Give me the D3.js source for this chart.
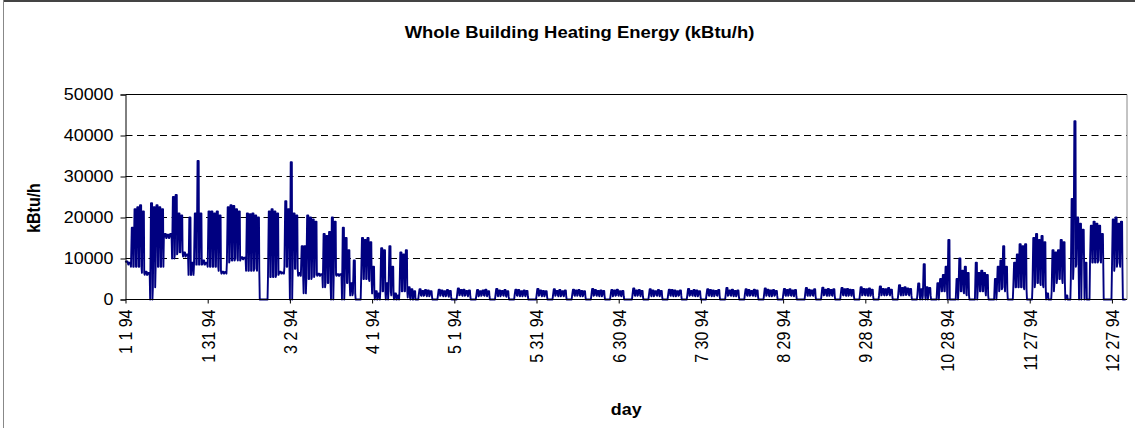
<!DOCTYPE html>
<html><head><meta charset="utf-8">
<script src="https://cdn.jsdelivr.net/npm/d3@7"></script>
<style>
body{margin:0;background:#fff}
svg text{font-family:"Liberation Sans",Arial,Helvetica,sans-serif;fill:#000}
</style></head><body>
<svg id="chart" width="1135" height="428"></svg>
<script>
// ---- data (kBtu/h), one low (night) and one high (daytime) reading per day ----
const tickLabels = ["1 1 94","1 31 94","3 2 94","4 1 94","5 1 94","5 31 94","6 30 94","7 30 94","8 29 94","9 28 94","10 28 94","11 27 94","12 27 94"];
const tickDays = [0,30,60,90,120,150,180,210,240,270,300,330,360];
const yTicks = [0,10000,20000,30000,40000,50000];

const lowJan = [9000,8500,8000,8000,8000,8000,6500,6000,6000,0,3000,8000,8000,8000,15000,15000,15000,10000,11000,11500,11500,10500,10500,6000,6000,8500,8500,8500,8500,8500,8000];
const highJan = [9300,9000,17500,22000,22500,23000,21500,6800,6500,23500,22500,23000,22500,22000,16000,15800,16000,25000,25500,21000,20500,11500,11000,20000,9000,21000,33800,21000,9500,9000,21500];
const lowFeb = [8000,8000,8000,7000,6300,6300,9000,9500,9500,10000,9500,9800,9800,7000,7000,7000,7500,7000,0,0,0,5500,5500,5500,6000,6300,6300,8000];
const highFeb = [21500,21000,21500,20500,6800,6700,22500,23000,22800,22000,21500,10300,10200,21000,20800,21000,20500,20000,0,0,0,21500,22000,21500,21000,6800,6600,24000];
const lowMar = [8000,0,7500,7500,5800,5800,1500,5000,5000,5500,6000,5800,5800,3000,4000,4000,0,6000,5800,5800,0,4000,4000,1000,1500,0,0,5000,5000,5000,4500];
const highMar = [22000,33500,21000,20500,6500,13000,13000,20500,20000,19500,19000,6300,6200,16000,15500,16500,20000,19000,6200,6200,17500,15000,12000,4000,9500,0,0,15000,14500,15000,14000];
const lowApr = [1500,0,0,2000,2000,0,2000,1000,0,0,2000,2000,2000,500,0,0,0,1000,900,1000,800,900,0,0,900,1000,800,900,700,0];
const highApr = [8000,2000,1500,12500,12000,4000,13000,8000,1500,1000,11500,11000,12000,3000,2500,2000,0,2500,2100,2300,2200,2000,0,0,2400,2200,2000,2300,2100,0];
const lowMay = [0,1000,1100,900,1000,800,0,0,800,900,1000,900,800,0,0,900,800,1000,900,700,0,0,1000,900,800,900,800,0,0,0,900];
const highMay = [0,2700,2300,2400,2100,2200,0,0,2300,2000,2200,2400,2000,0,0,2600,2200,2100,2300,2000,0,0,2400,2300,2000,2200,2100,0,0,0,2600];
const lowJun = [1000,800,900,0,0,900,1000,800,900,800,0,0,1000,900,1000,800,900,0,0,900,1000,900,800,900,0,0,800,900,1000,900];
const highJun = [2200,2100,2000,0,0,2500,2100,2300,2000,2200,0,0,2400,2200,2300,2100,2000,0,0,2600,2300,2100,2200,2100,0,0,2300,2200,2400,2000];
const lowJul = [800,0,0,0,1000,900,1000,800,0,0,900,800,1000,900,800,0,0,1000,900,800,900,1000,0,0,900,1000,900,800,900,0,0];
const highJul = [2100,0,0,0,2700,2200,2300,2100,0,0,2500,2200,2000,2300,2100,0,0,2400,2300,2200,2000,2200,0,0,2600,2100,2300,2200,2000,0,0];
const lowAug = [1000,900,800,1000,900,0,0,900,1000,900,800,900,0,0,1000,900,1000,900,800,0,0,900,1000,800,900,1000,0,0,1000,900,1000];
const highAug = [2500,2300,2200,2100,2300,0,0,2800,2200,2400,2100,2200,0,0,2500,2300,2100,2400,2200,0,0,2700,2400,2200,2300,2100,0,0,2600,2300,2500];
const lowSep = [900,800,0,0,0,1000,900,1000,900,0,0,1000,1100,900,1000,900,0,0,1100,1000,900,1000,900,0,0,1000,1100,1000,900,1000];
const highSep = [2200,2300,0,0,0,2800,2400,2200,2500,0,0,2900,2400,2600,2300,2500,0,0,2800,2500,2600,2400,2300,0,0,3000,2600,2500,2700,2400];
const lowOct = [0,0,1000,1100,1000,1200,1000,0,0,1200,1000,1100,1200,1000,0,0,1200,0,1000,0,1000,0,0,0,2000,2000,2000,0,0,0,0];
const highOct = [0,0,3200,2600,2500,2800,2400,0,0,3500,2800,3000,2700,2600,0,0,3900,2500,8600,3000,2800,0,0,4000,5000,6000,8000,14500,0,0,5000];
const lowNov = [2000,2000,1500,1000,0,0,0,2000,2000,2000,1000,0,0,0,2000,2500,3000,2000,0,0,3000,3000,3000,3000,2500,0,0,3000,4000,4000];
const highNov = [10000,7000,8000,6500,0,0,9000,6500,7000,6500,6000,0,0,5000,8000,9500,13000,8000,0,0,9000,11000,13500,13000,13500,0,0,15000,16000,14500];
const lowDec = [3500,3000,0,0,2000,4000,5000,5000,4000,0,0,5000,8000,8500,0,9000,0,0,9000,9000,9000,9500,9000,0,0,0,7000,8000,9000,8000,0];
const highDec = [15500,14000,1500,0,12000,11500,12000,14500,14000,1000,0,24500,43500,20000,18500,17000,9000,0,18000,19000,18500,18000,16000,0,0,0,19500,20000,18500,19000,0];

const dailyLow = [].concat(lowJan,lowFeb,lowMar,lowApr,lowMay,lowJun,lowJul,lowAug,lowSep,lowOct,lowNov,lowDec);
const dailyHigh = [].concat(highJan,highFeb,highMar,highApr,highMay,highJun,highJul,highAug,highSep,highOct,highNov,highDec);

// hourly-style trace: night low, daytime high
const trace = [];
dailyLow.forEach((lo, d) => {
  const hi = dailyHigh[d];
  trace.push({t: d, v: lo}, {t: d + 7/24, v: hi}, {t: d + 17/24, v: hi}, {t: d + 20/24, v: lo});
});
trace.push({t: 365, v: dailyLow[364]});

// ---- drawing ----
const svg = d3.select("#chart");
const W = 1135, H = 428;
const plot = {left: 125.5, right: 1127, top: 94.5, bottom: 299.5};
const SX = 1.12; // horizontal glyph stretch of the original rendering

// outer frame
svg.append("line").attr("x1",3).attr("x2",W).attr("y1",1).attr("y2",1).attr("stroke","#444").attr("stroke-width",2);
svg.append("line").attr("x1",3.5).attr("x2",3.5).attr("y1",0).attr("y2",H).attr("stroke","#888").attr("stroke-width",1);

const x = d3.scaleLinear().domain([0, 365.5]).range([plot.left, plot.right]);
const y = d3.scaleLinear().domain([0, 50000]).range([plot.bottom, plot.top]);

// gridlines
svg.append("g").selectAll("line").data(yTicks.filter(v => v > 0 && v < 50000)).join("line")
  .attr("x1", plot.left).attr("x2", plot.right)
  .attr("y1", d => y(d)).attr("y2", d => y(d))
  .attr("stroke", "#000").attr("stroke-width", 1).attr("stroke-dasharray", "7,4.5");
// plot frame top and right
svg.append("line").attr("x1",plot.left).attr("x2",plot.right).attr("y1",y(50000)).attr("y2",y(50000)).attr("stroke","#000");
svg.append("line").attr("x1",plot.right).attr("x2",plot.right).attr("y1",plot.top).attr("y2",plot.bottom).attr("stroke","#888");

// series
const line = d3.line().x(d => x(d.t)).y(d => y(d.v));
svg.append("path").datum(trace).attr("d", line)
  .attr("fill","none").attr("stroke","#000080").attr("stroke-width",1.9).attr("stroke-linejoin","round");

// y axis
const yAxis = svg.append("g").attr("transform", `translate(${plot.left},0)`)
  .call(d3.axisLeft(y).tickValues(yTicks).tickSize(5).tickPadding(7).tickFormat(d3.format("d")));
yAxis.select(".domain").attr("stroke","#000");
yAxis.selectAll("line").attr("stroke","#000");
yAxis.selectAll("text").attr("font-size", 16).attr("font-family", null)
  .attr("x", function(){ return +d3.select(this).attr("x") / SX; })
  .attr("transform", `scale(${SX},1)`);

// x axis
const xAxis = svg.append("g").attr("transform", `translate(0,${plot.bottom})`)
  .call(d3.axisBottom(x).tickValues(tickDays).tickSize(4).tickFormat((d,i) => tickLabels[i]));
xAxis.select(".domain").attr("stroke","#000").attr("d", `M${plot.left},0H${plot.right}`);
xAxis.selectAll("line").attr("stroke","#000");
xAxis.selectAll("text").attr("font-size", 16).attr("font-family", null)
  .attr("x", -10).attr("y", 0).attr("dy", "0.36em")
  .attr("text-anchor", "end")
  .attr("transform", `scale(${SX},1) rotate(-90)`);

// titles
svg.append("text").attr("transform", `translate(579.5,38) scale(${SX},1)`)
  .attr("text-anchor","middle").attr("font-size",16.5).attr("font-weight","bold")
  .text("Whole Building Heating Energy (kBtu/h)");
svg.append("text").attr("transform", `translate(33.5,208) scale(${SX},1) rotate(-90)`)
  .attr("text-anchor","middle").attr("dy","0.36em").attr("font-size",16).attr("font-weight","bold")
  .text("kBtu/h");
svg.append("text").attr("transform", `translate(${(plot.left+plot.right)/2},415) scale(${SX},1)`)
  .attr("text-anchor","middle").attr("font-size",16).attr("font-weight","bold")
  .text("day");
</script>
</body></html>
